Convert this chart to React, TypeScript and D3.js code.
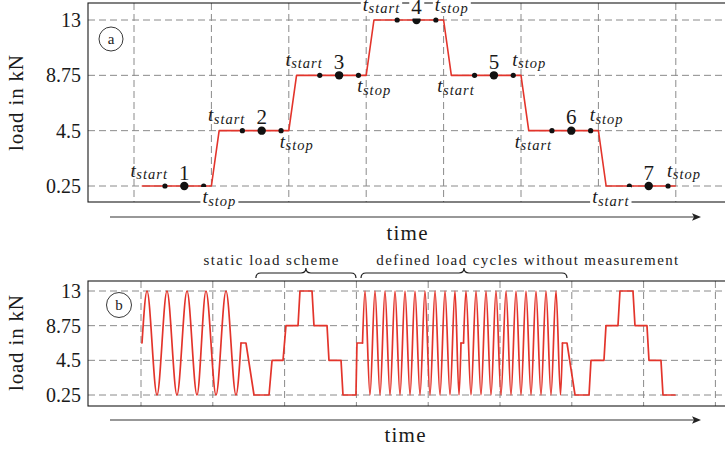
import React, { useEffect, useRef } from "react";
import * as d3 from "d3";

const W = 725;
const H = 449;
const FONT = "'Liberation Serif', 'Times New Roman', serif";
const RED = "#e3342b";

const LO = 0.25;
const MID = 6.625;
const HI = 13;

const yTicks = [0.25, 4.5, 8.75, 13];
const yTickLabels = ["0.25", "4.5", "8.75", "13"];

// ---- panel (a): one static load scheme, time in scheme steps
const schemePath: [number, number][] = [
  [0.1, 0.25], [1, 0.25], [1.1, 4.5], [2, 4.5], [2.1, 8.75], [3, 8.75],
  [3.1, 13], [4, 13], [4.1, 8.75], [5, 8.75], [5.1, 4.5], [6, 4.5],
  [6.1, 0.25], [7, 0.25],
];
const stepLevels = [0.25, 4.5, 8.75, 13, 8.75, 4.5, 0.25];
const stepNames = ["1", "2", "3", "4", "5", "6", "7"];
const tStartDots = [0.4, 1.4, 2.4, 3.4, 4.4, 5.4, 6.4];
const measureDots = [0.65, 1.65, 2.65, 3.65, 4.65, 5.65, 6.65];
const tStopDots = [0.9, 1.9, 2.9, 3.9, 4.9, 5.9, 6.9];

const startLabels = [
  { t: 0.4, v: 0.25, place: "above" },
  { t: 1.4, v: 4.5, place: "above" },
  { t: 2.4, v: 8.75, place: "above" },
  { t: 3.4, v: 13, place: "above" },
  { t: 4.1, v: 8.75, place: "below" },
  { t: 5.1, v: 4.5, place: "below" },
  { t: 6.1, v: 0.25, place: "below" },
];
const stopLabels = [
  { t: 1, v: 0.25, place: "below" },
  { t: 2, v: 4.5, place: "below" },
  { t: 3, v: 8.75, place: "below" },
  { t: 3.9, v: 13, place: "above" },
  { t: 4.9, v: 8.75, place: "above" },
  { t: 5.9, v: 4.5, place: "above" },
  { t: 6.9, v: 0.25, place: "above" },
];

// ---- panel (b): full test sequence
const cyclesA: [number, number][] = [
  [0.14, MID], [0.84, HI], [2.23, LO], [3.62, HI], [5.01, LO], [6.41, HI],
  [7.8, LO], [9.05, HI], [10.45, LO], [11.84, HI], [13.23, LO], [13.93, MID],
];
const schemeB1: [number, number][] = [
  [13.93, MID], [14.62, MID], [15.74, LO], [17.83, LO], [18.25, 4.5],
  [19.78, 4.5], [20.19, 8.75], [21.87, 8.75], [22.14, HI], [23.82, HI],
  [24.09, 8.75], [25.91, 8.75], [26.18, 4.5], [27.86, 4.5], [28.13, LO],
  [29.94, LO], [30.08, MID], [30.85, MID],
];
const cyclesB1: [number, number][] = [
  [30.85, MID], [31.2, HI], [31.89, LO], [32.59, HI], [33.29, LO],
  [33.98, HI], [34.68, LO], [35.38, HI], [36.07, LO], [36.77, HI],
  [37.47, LO], [38.16, HI], [38.86, LO], [39.55, HI], [40.25, LO],
  [40.95, HI], [41.64, LO], [42.34, HI], [43.04, LO], [43.73, HI],
  [44.29, LO], [44.57, MID],
];
const pauseB: [number, number][] = [[44.57, MID], [44.92, MID]];
const cyclesB2: [number, number][] = [
  [44.92, MID], [45.26, HI], [45.96, LO], [46.66, HI], [47.35, LO],
  [48.05, HI], [48.75, LO], [49.44, HI], [50.14, LO], [50.84, HI],
  [51.53, LO], [52.23, HI], [52.92, LO], [53.62, HI], [54.32, LO],
  [55.01, HI], [55.71, LO], [56.41, HI], [57.1, LO], [57.8, HI],
  [58.43, LO], [58.7, MID],
];
const schemeB2: [number, number][] = [
  [58.7, MID], [59.33, MID], [60.45, LO], [62.4, LO], [62.67, 4.5],
  [64.48, 4.5], [64.76, 8.75], [66.43, 8.75], [66.71, HI], [68.52, HI],
  [68.8, 8.75], [70.47, 8.75], [70.75, 4.5], [72.42, 4.5], [72.7, LO],
  [74.37, LO],
];

const braces = [
  { from: 16.0, to: 29.94, label: "static load scheme", labelAt: 18.1, width: 135 },
  { from: 30.64, to: 59.33, label: "defined load cycles without measurement", labelAt: 53.8, width: 302 },
];

type Box = { left: number; right: number; top: number; bottom: number };

function App() {
  const ref = useRef<SVGSVGElement | null>(null);

  useEffect(() => {
    const svg = d3.select(ref.current);
    svg.selectAll("*").remove();

    const boxA: Box = { left: 88, right: 760, top: 3, bottom: 202 };
    const boxB: Box = { left: 88, right: 760, top: 281, bottom: 406 };

    const xA = d3.scaleLinear().domain([0, 7]).range([134, 675.8]);
    const yA = d3.scaleLinear().domain([0.25, 13]).range([186, 20]);
    const xB = d3.scaleLinear().domain([0, 80]).range([141, 715.4]);
    const yB = d3.scaleLinear().domain([0.25, 13]).range([395, 291]);

    const drawPanel = (
      box: Box,
      x: d3.ScaleLinear<number, number>,
      y: d3.ScaleLinear<number, number>,
      xTicks: number[],
      titleY: number
    ) => {
      const g = svg.append("g");
      // grid
      g.append("g")
        .selectAll("line")
        .data(yTicks)
        .join("line")
        .attr("x1", box.left)
        .attr("x2", box.right)
        .attr("y1", (d) => y(d))
        .attr("y2", (d) => y(d))
        .attr("stroke", "#8a8a8a")
        .attr("stroke-dasharray", "7 4");
      g.append("g")
        .selectAll("line")
        .data(xTicks)
        .join("line")
        .attr("x1", (d) => x(d))
        .attr("x2", (d) => x(d))
        .attr("y1", box.top)
        .attr("y2", box.bottom)
        .attr("stroke", "#8a8a8a")
        .attr("stroke-dasharray", "7 4");
      // frame
      g.append("rect")
        .attr("x", box.left)
        .attr("y", box.top)
        .attr("width", box.right - box.left)
        .attr("height", box.bottom - box.top)
        .attr("fill", "none")
        .attr("stroke", "#1a1a1a")
        .attr("stroke-width", 1.1);
      // y axis labels
      g.append("g")
        .attr("transform", `translate(${box.left},0)`)
        .call(
          d3
            .axisLeft(y)
            .tickValues(yTicks)
            .tickSize(0)
            .tickPadding(7)
            .tickFormat((d, i) => yTickLabels[i])
        )
        .call((ax) => ax.select(".domain").remove())
        .selectAll("text")
        .attr("font-family", FONT)
        .attr("font-size", 20)
        .attr("fill", "#1a1a1a");
      // y title
      svg
        .append("text")
        .attr("transform", `translate(23,${titleY}) rotate(-90)`)
        .attr("text-anchor", "middle")
        .attr("font-family", FONT)
        .attr("font-size", 21)
        .attr("textLength", 96)
        .attr("fill", "#1a1a1a")
        .text("load in kN");
      return g;
    };

    const drawTimeArrow = (yLine: number, xText: number, yText: number) => {
      svg
        .append("line")
        .attr("x1", 110)
        .attr("x2", 694)
        .attr("y1", yLine)
        .attr("y2", yLine)
        .attr("stroke", "#333")
        .attr("stroke-width", 1.2);
      svg
        .append("path")
        .attr("d", `M701,${yLine} L692,${yLine - 3.8} L694,${yLine} L692,${yLine + 3.8} Z`)
        .attr("fill", "#222");
      svg
        .append("text")
        .attr("x", xText)
        .attr("y", yText)
        .attr("text-anchor", "middle")
        .attr("font-family", FONT)
        .attr("font-size", 21)
        .attr("textLength", 41)
        .attr("fill", "#1a1a1a")
        .text("time");
    };

    const drawBadge = (cx: number, cy: number, r: number, s: string) => {
      svg
        .append("circle")
        .attr("cx", cx)
        .attr("cy", cy)
        .attr("r", r)
        .attr("fill", "#fff")
        .attr("stroke", "#222")
        .attr("stroke-width", 0.9);
      svg
        .append("text")
        .attr("x", cx)
        .attr("y", cy + 4.5)
        .attr("text-anchor", "middle")
        .attr("font-family", FONT)
        .attr("font-size", 15)
        .attr("fill", "#222")
        .text(s);
    };

    // ===== panel (a)
    drawPanel(boxA, xA, yA, xA.ticks(7), 103);

    svg
      .append("path")
      .datum(schemePath)
      .attr("fill", "none")
      .attr("stroke", RED)
      .attr("stroke-width", 1.6)
      .attr("stroke-linejoin", "round")
      .attr(
        "d",
        d3
          .line<[number, number]>()
          .x((d) => xA(d[0]))
          .y((d) => yA(d[1]))
      );

    const dots = svg.append("g").attr("fill", "#111");
    dots
      .selectAll(".s")
      .data(stepLevels)
      .join("circle")
      .attr("cx", (d, i) => xA(tStartDots[i]))
      .attr("cy", (d) => yA(d))
      .attr("r", 2.6);
    dots
      .selectAll(".e")
      .data(stepLevels)
      .join("circle")
      .attr("cx", (d, i) => xA(tStopDots[i]))
      .attr("cy", (d) => yA(d))
      .attr("r", 2.6);
    dots
      .selectAll(".m")
      .data(stepLevels)
      .join("circle")
      .attr("cx", (d, i) => xA(measureDots[i]))
      .attr("cy", (d) => yA(d))
      .attr("r", 4.2);

    const labels = svg.append("g").attr("fill", "#1a1a1a").attr("font-family", FONT);

    const withBackground = (node: SVGTextElement) => {
      const b = node.getBBox();
      const hits = [boxA.top, boxA.bottom].some((fy) => b.y < fy && b.y + b.height > fy);
      if (!hits) return;
      d3.select(node.parentNode as SVGGElement)
        .insert("rect", () => node)
        .attr("x", b.x - 2)
        .attr("y", b.y + 1)
        .attr("width", b.width + 4)
        .attr("height", b.height - 1)
        .attr("fill", "#fff");
    };

    const tLabel = (px: number, py: number, sub: string, anchor: string) => {
      const t = labels
        .append("text")
        .attr("x", px)
        .attr("y", py)
        .attr("text-anchor", anchor)
        .attr("font-style", "italic");
      t.append("tspan").attr("font-size", 19).text("t");
      t.append("tspan")
        .attr("font-size", 14.5)
        .attr("dy", 2.5)
        .attr("dx", 0.5)
        .attr("letter-spacing", 1)
        .text(sub);
      withBackground(t.node() as SVGTextElement);
    };

    startLabels.forEach((d) => {
      if (d.place === "above") tLabel(xA(d.t) + 3, yA(d.v) - 9.5, "start", "end");
      else tLabel(xA(d.t) - 14, yA(d.v) + 17, "start", "start");
    });
    stopLabels.forEach((d) => {
      if (d.place === "above") tLabel(xA(d.t) - 1, yA(d.v) - 9.5, "stop", "start");
      else tLabel(xA(d.t) - 9, yA(d.v) + 17, "stop", "start");
    });
    stepNames.forEach((s, i) => {
      const t = labels
        .append("text")
        .attr("x", xA(measureDots[i]))
        .attr("y", yA(stepLevels[i]) - 6.5)
        .attr("text-anchor", "middle")
        .attr("font-size", 21)
        .text(s);
      withBackground(t.node() as SVGTextElement);
    });

    drawBadge(111, 39, 12, "a");
    drawTimeArrow(217, 407, 240);

    // ===== panel (b)
    drawPanel(boxB, xB, yB, xB.ticks(8), 343);

    const lineB = d3
      .line<[number, number]>()
      .x((d) => xB(d[0]))
      .y((d) => yB(d[1]));
    const waveB = d3
      .line<[number, number]>()
      .x((d) => xB(d[0]))
      .y((d) => yB(d[1]))
      .curve(d3.curveMonotoneX);

    const pieces: [[number, number][], boolean][] = [
      [cyclesA, true],
      [schemeB1, false],
      [cyclesB1, true],
      [pauseB, false],
      [cyclesB2, true],
      [schemeB2, false],
    ];
    const red = svg
      .append("g")
      .attr("fill", "none")
      .attr("stroke", RED)
      .attr("stroke-width", 1.7)
      .attr("stroke-linejoin", "round")
      .attr("stroke-linecap", "round");
    pieces.forEach(([pts, wave]) => {
      red.append("path").attr("d", (wave ? waveB : lineB)(pts));
    });

    // braces above panel (b)
    const y0 = 278;
    const ym = 273;
    const ytip = 268;
    const r = 5;
    braces.forEach((b) => {
      const x1 = xB(b.from);
      const x2 = xB(b.to);
      const xm = (x1 + x2) / 2;
      svg
        .append("path")
        .attr(
          "d",
          `M${x1},${y0} Q${x1},${ym} ${x1 + r},${ym} L${xm - r},${ym} Q${xm},${ym} ${xm},${ytip} Q${xm},${ym} ${xm + r},${ym} L${x2 - r},${ym} Q${x2},${ym} ${x2},${y0}`
        )
        .attr("fill", "none")
        .attr("stroke", "#1a1a1a")
        .attr("stroke-width", 1.2);
      svg
        .append("text")
        .attr("x", xB(b.labelAt))
        .attr("y", 265)
        .attr("text-anchor", "middle")
        .attr("font-family", FONT)
        .attr("font-size", 15)
        .attr("textLength", b.width)
        .attr("lengthAdjust", "spacing")
        .attr("fill", "#222")
        .text(b.label);
    });

    drawBadge(119, 305, 12.5, "b");
    drawTimeArrow(420, 405, 442);
  }, []);

  return (
    <svg
      ref={ref}
      width={W}
      height={H}
      style={{ position: "absolute", left: 0, top: 0, background: "#fff" }}
    ></svg>
  );
}

export default App;
